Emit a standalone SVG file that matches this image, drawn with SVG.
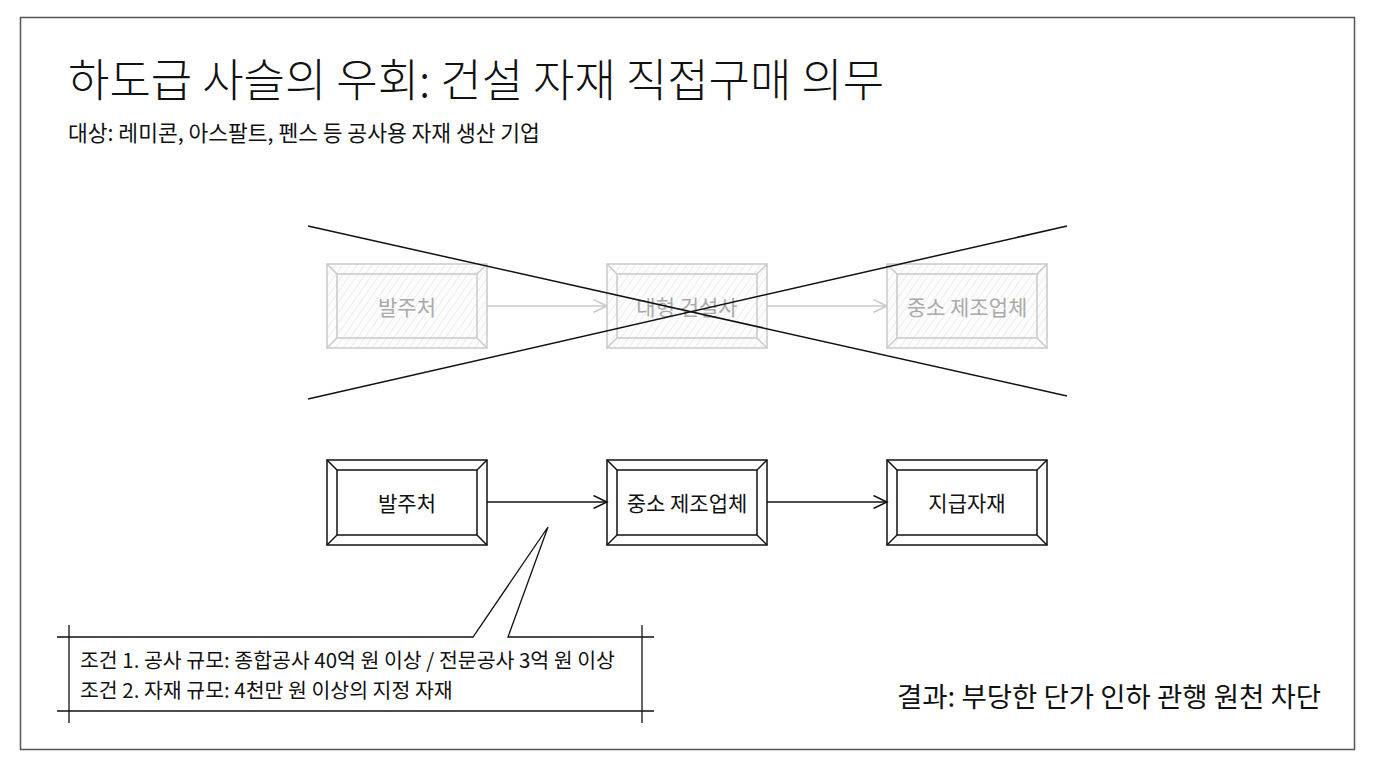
<svg xmlns="http://www.w3.org/2000/svg" width="1376" height="768" viewBox="0 0 1376 768">
<style>
text{font-family:"Noto Sans CJK KR","Noto Sans CJK SC",sans-serif;}
.title{font-size:45px;font-weight:300;fill:#111;}
.sub{font-size:21.5px;font-weight:400;fill:#111;}
.res{font-size:27.5px;font-weight:400;fill:#111;}
.note{font-size:20.5px;font-weight:400;fill:#111;}
.lbl{font-size:21px;font-weight:400;text-anchor:middle;dominant-baseline:central;}
.old rect,.old line{stroke:#c9c9c9;stroke-width:1.5;}
.old text{fill:#aaaaaa;}
.new rect,.new line{stroke:#111;stroke-width:1.5;fill:none;}
.new text{fill:#111;}
.cross{stroke:#111;stroke-width:1.5;}
.ann{stroke:#111;stroke-width:1.3;fill:none;}
</style>
<defs>
<pattern id="hatch" width="6" height="6" patternUnits="userSpaceOnUse" patternTransform="rotate(35)">
<rect width="6" height="6" fill="#fdfdfd"/>
<line x1="0" y1="0" x2="0" y2="6" stroke="#dedede" stroke-width="1"/>
</pattern>
<marker id="ahb" markerWidth="16" markerHeight="14" refX="14" refY="7" orient="auto" markerUnits="userSpaceOnUse">
<path d="M0.5,0.5 L14,7 L0.5,13.5" fill="none" stroke="#111" stroke-width="1.5"/>
</marker>
<marker id="ahg" markerWidth="16" markerHeight="14" refX="14" refY="7" orient="auto" markerUnits="userSpaceOnUse">
<path d="M0.5,0.5 L14,7 L0.5,13.5" fill="none" stroke="#c9c9c9" stroke-width="1.5"/>
</marker>
</defs>
<rect x="0" y="0" width="1376" height="768" fill="#ffffff"/>
<rect x="20.5" y="17.5" width="1334" height="732" fill="none" stroke="#555" stroke-width="1.5"/>

<g id="title">
<text class="title" x="68" y="97">하도급 사슬의 우회: 건설 자재 직접구매 의무</text>
<text class="sub" x="68" y="141">대상: 레미콘, 아스팔트, 펜스 등 공사용 자재 생산 기업</text>
</g>

<g id="connectors">
<line x1="487" y1="306" x2="607" y2="306" stroke="#c9c9c9" stroke-width="1.5" marker-end="url(#ahg)"/>
<line x1="767" y1="306" x2="887" y2="306" stroke="#c9c9c9" stroke-width="1.5" marker-end="url(#ahg)"/>
<line x1="487" y1="502" x2="607" y2="502" stroke="#111" stroke-width="1.5" marker-end="url(#ahb)"/>
<line x1="767" y1="502" x2="887" y2="502" stroke="#111" stroke-width="1.5" marker-end="url(#ahb)"/>
</g>

<g id="old-owner" class="old">
<rect x="327" y="264" width="160" height="84" fill="url(#hatch)"/>
<rect x="337" y="274" width="140" height="64" fill="none"/>
<line x1="327" y1="264" x2="337" y2="274"/><line x1="487" y1="264" x2="477" y2="274"/>
<line x1="327" y1="348" x2="337" y2="338"/><line x1="487" y1="348" x2="477" y2="338"/>
<text class="lbl" x="407" y="306">발주처</text>
</g>
<g id="old-contractor" class="old">
<rect x="607" y="264" width="160" height="84" fill="url(#hatch)"/>
<rect x="617" y="274" width="140" height="64" fill="none"/>
<line x1="607" y1="264" x2="617" y2="274"/><line x1="767" y1="264" x2="757" y2="274"/>
<line x1="607" y1="348" x2="617" y2="338"/><line x1="767" y1="348" x2="757" y2="338"/>
<text class="lbl" x="687" y="306">대형 건설사</text>
</g>
<g id="old-maker" class="old">
<rect x="887" y="264" width="160" height="84" fill="url(#hatch)"/>
<rect x="897" y="274" width="140" height="64" fill="none"/>
<line x1="887" y1="264" x2="897" y2="274"/><line x1="1047" y1="264" x2="1037" y2="274"/>
<line x1="887" y1="348" x2="897" y2="338"/><line x1="1047" y1="348" x2="1037" y2="338"/>
<text class="lbl" x="967" y="306">중소 제조업체</text>
</g>

<g id="cross">
<line class="cross" x1="308" y1="226" x2="1067" y2="396"/>
<line class="cross" x1="308" y1="399" x2="1067" y2="226"/>
</g>

<g id="new-owner" class="new">
<rect x="327" y="460" width="160" height="85" fill="#fff"/>
<rect x="337" y="470" width="140" height="65"/>
<line x1="327" y1="460" x2="337" y2="470"/><line x1="487" y1="460" x2="477" y2="470"/>
<line x1="327" y1="545" x2="337" y2="535"/><line x1="487" y1="545" x2="477" y2="535"/>
<text class="lbl" x="407" y="502">발주처</text>
</g>
<g id="new-maker" class="new">
<rect x="607" y="460" width="160" height="85" fill="#fff"/>
<rect x="617" y="470" width="140" height="65"/>
<line x1="607" y1="460" x2="617" y2="470"/><line x1="767" y1="460" x2="757" y2="470"/>
<line x1="607" y1="545" x2="617" y2="535"/><line x1="767" y1="545" x2="757" y2="535"/>
<text class="lbl" x="687" y="502">중소 제조업체</text>
</g>
<g id="new-material" class="new">
<rect x="887" y="460" width="160" height="85" fill="#fff"/>
<rect x="897" y="470" width="140" height="65"/>
<line x1="887" y1="460" x2="897" y2="470"/><line x1="1047" y1="460" x2="1037" y2="470"/>
<line x1="887" y1="545" x2="897" y2="535"/><line x1="1047" y1="545" x2="1037" y2="535"/>
<text class="lbl" x="967" y="502">지급자재</text>
</g>

<g id="annotation">
<path class="ann" d="M57,637 L473,637 L548,527 L508,637 L654,637"/>
<line class="ann" x1="57" y1="711" x2="654" y2="711"/>
<line class="ann" x1="69" y1="625" x2="69" y2="723"/>
<line class="ann" x1="642" y1="625" x2="642" y2="723"/>
<text class="note" x="80" y="668">조건 1. 공사 규모: 종합공사 40억 원 이상 / 전문공사 3억 원 이상</text>
<text class="note" x="80" y="698">조건 2. 자재 규모: 4천만 원 이상의 지정 자재</text>
</g>

<g id="result">
<text class="res" x="897" y="707">결과: 부당한 단가 인하 관행 원천 차단</text>
</g>
</svg>
